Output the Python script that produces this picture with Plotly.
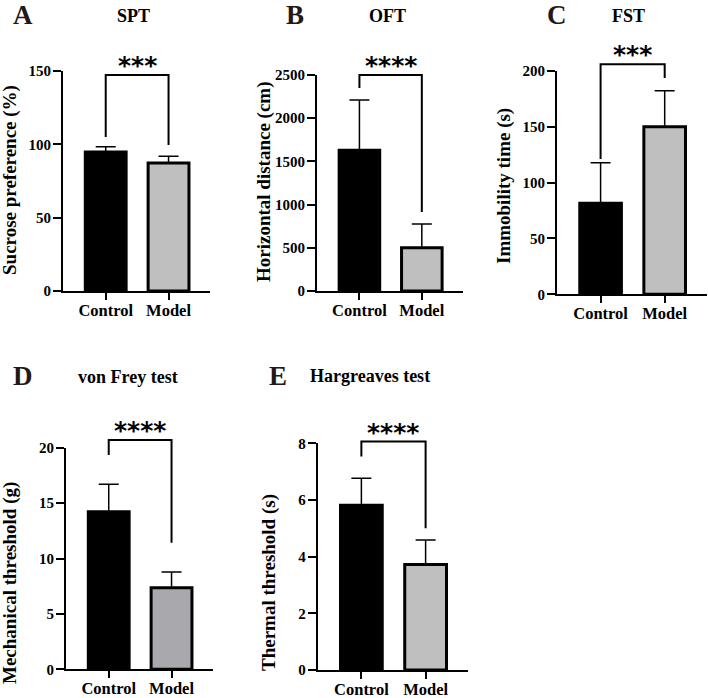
import plotly.graph_objects as go

# ---------------- data ----------------
groups = ["Control", "Model"]

spt_mean = [94.8, 87.3]
spt_sem = [3.6, 4.5]
spt_ticks = [0, 50, 100, 150]

oft_mean = [1628, 501]
oft_sem = [583, 274]
oft_ticks = [0, 500, 1000, 1500, 2000, 2500]

fst_mean = [81.4, 149.9]
fst_sem = [36.3, 32.1]
fst_ticks = [0, 50, 100, 150, 200]

vf_mean = [14.22, 7.37]
vf_sem = [2.48, 1.41]
vf_ticks = [0, 5, 10, 15, 20]

hg_mean = [5.81, 3.72]
hg_sem = [0.96, 0.87]
hg_ticks = [0, 2, 4, 6, 8]

# significance brackets: (top, left leg end, right leg end) in data units
spt_bracket = [147.3, 105, 99.5]
oft_bracket = [2500, 2350, 914]
fst_bracket = [205.7, 121, 193.5]
vf_bracket = [20.7, 19.34, 11.43]
hg_bracket = [8.06, 7.53, 5.0]

sig_labels = ["***", "****", "***", "****", "****"]
panel_letters = ["A", "B", "C", "D", "E"]
panel_titles = ["SPT", "OFT", "FST", "von Frey test", "Hargreaves test"]
y_titles = ["Sucrose preference (%)", "Horizontal distance (cm)", "Immobility time (s)",
            "Mechanical threshold (g)", "Thermal threshold (s)"]

# ---------------- layout / style ----------------
W, H = 708, 698
SERIF = "Liberation Serif"
LETTER_COLOR = "#231815"
CONTROL_COLOR = "#000000"


def fx(px):
    return px / W


def fy(py):
    return 1 - py / H


panels = [
    dict(mean=spt_mean, sem=spt_sem, ticks=spt_ticks, bracket=spt_bracket, model_color="#bfbfbf",
         box=(63, 210, 71, 291), title_xy=(133, 16), letter_xy=(23, 15), ylab_xy=(10, 180)),
    dict(mean=oft_mean, sem=oft_sem, ticks=oft_ticks, bracket=oft_bracket, model_color="#bfbfbf",
         box=(317, 463, 75, 291), title_xy=(388, 16), letter_xy=(295, 15), ylab_xy=(264, 182)),
    dict(mean=fst_mean, sem=fst_sem, ticks=fst_ticks, bracket=fst_bracket, model_color="#bfbfbf",
         box=(557, 707, 70.7, 294.3), title_xy=(628, 16), letter_xy=(557, 15), ylab_xy=(504, 186)),
    dict(mean=vf_mean, sem=vf_sem, ticks=vf_ticks, bracket=vf_bracket, model_color="#a9a9ad",
         box=(66, 213, 447.7, 669.3), title_xy=(128, 377), letter_xy=(23, 376), ylab_xy=(10, 583)),
    dict(mean=hg_mean, sem=hg_sem, ticks=hg_ticks, bracket=hg_bracket, model_color="#bfbfbf",
         box=(317.7, 468, 443.3, 670), title_xy=(370, 376), letter_xy=(278, 376), ylab_xy=(269, 583)),
]

fig = go.Figure()
layout = dict(
    width=W, height=H, margin=dict(l=0, r=0, t=0, b=0, autoexpand=False),
    paper_bgcolor="white", plot_bgcolor="white", showlegend=False,
    shapes=[], annotations=[],
)

xpos = list(range(len(groups)))

for i, p in enumerate(panels):
    s = "" if i == 0 else str(i + 1)
    xa, ya = "x" + s, "y" + s
    ymax = p["ticks"][-1]
    fig.add_trace(go.Bar(
        x=xpos, y=p["mean"], xaxis=xa, yaxis=ya, width=0.65,
        marker=dict(color=[CONTROL_COLOR, p["model_color"]], line=dict(color="black", width=3)),
        error_y=dict(type="data", symmetric=False, array=p["sem"], arrayminus=[0] * len(groups),
                     color="black", thickness=1.5, width=10),
        hoverinfo="skip",
    ))
    x0, x1, yt, yb = p["box"]
    layout["xaxis" + s] = dict(
        domain=[fx(x0), min(fx(x1), 1.0)], anchor=ya, range=[-0.68, 1.66],
        tickvals=xpos, ticktext=groups, automargin=False,
        showline=True, linewidth=2, linecolor="black",
        ticks="outside", ticklen=7, tickwidth=2, tickcolor="black",
        tickfont=dict(family=SERIF, size=16.5, color="black", weight="bold"),
        ticklabelstandoff=-4,
        showgrid=False, zeroline=False, fixedrange=True,
    )
    layout["yaxis" + s] = dict(
        domain=[fy(yb), fy(yt)], anchor=xa, range=[0, ymax],
        tickvals=p["ticks"], tickformat="d", automargin=False,
        showline=True, linewidth=2, linecolor="black",
        ticks="outside", ticklen=8, tickwidth=2, tickcolor="black",
        tickfont=dict(family=SERIF, size=15, color="black", weight="bold"),
        ticklabelstandoff=-1,
        showgrid=False, zeroline=False, fixedrange=True,
    )
    top, yl, yr = p["bracket"]
    layout["shapes"].append(dict(
        type="path", xref=xa, yref=ya + " domain",
        path=f"M {xpos[0]},{yl / ymax} L {xpos[0]},{top / ymax} L {xpos[1]},{top / ymax} L {xpos[1]},{yr / ymax}",
        line=dict(color="black", width=2),
    ))
    layout["annotations"].append(dict(
        x=(xpos[0] + xpos[1]) / 2, y=top / ymax, xref=xa, yref=ya + " domain",
        text=sig_labels[i], showarrow=False, xanchor="center", yanchor="bottom", yshift=-7,
        font=dict(family="DejaVu Sans", size=25, color="black", weight="bold"),
    ))
    tx, ty = p["title_xy"]
    layout["annotations"].append(dict(
        x=fx(tx), y=fy(ty), xref="paper", yref="paper", text=panel_titles[i],
        showarrow=False, xanchor="center", yanchor="middle",
        font=dict(family=SERIF, size=18, color="black", weight="bold"),
    ))
    lx, ly = p["letter_xy"]
    layout["annotations"].append(dict(
        x=fx(lx), y=fy(ly), xref="paper", yref="paper", text=panel_letters[i],
        showarrow=False, xanchor="center", yanchor="middle",
        font=dict(family=SERIF, size=27, color=LETTER_COLOR, weight="bold"),
    ))
    gx, gy = p["ylab_xy"]
    layout["annotations"].append(dict(
        x=fx(gx), y=fy(gy), xref="paper", yref="paper", text=y_titles[i], textangle=-90,
        showarrow=False, xanchor="center", yanchor="middle",
        font=dict(family=SERIF, size=19, color="black", weight="bold"),
    ))

fig.update_layout(**layout)
# remove the browser's default 8px page margin so the figure fills the window exactly
fig.write_html("out.html", config={"displayModeBar": False},
               post_script="document.body.style.margin='0';")
